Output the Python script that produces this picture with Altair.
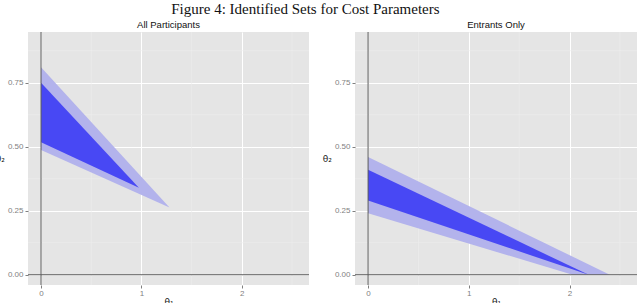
import altair as alt
import pandas as pd

panels = ["All Participants", "Entrants Only"]

# polygon vertices (theta1, theta2)
ap_outer_t1 = [0.0, 1.28, 0.0]
ap_outer_t2 = [0.81, 0.263, 0.487]
ap_inner_t1 = [0.0, 0.975, 0.0]
ap_inner_t2 = [0.75, 0.34, 0.517]

en_outer_t1 = [0.0, 2.40, 2.03, 0.0]
en_outer_t2 = [0.46, 0.0, 0.0, 0.24]
en_inner_t1 = [0.0, 2.19, 0.0]
en_inner_t2 = [0.41, 0.0, 0.29]

x_ticks = [0, 1, 2]
y_ticks = [0.0, 0.25, 0.50, 0.75]
x_minor = [0.5, 1.5, 2.5]
y_minor = [0.125, 0.375, 0.625, 0.875]
x_domain = [-0.13, 2.67]
y_domain = [-0.04, 0.948]
zero_line = [0]

LIGHT = "#B3B3EC"
DARK = "#4848F4"
LABEL = "#7F7F7F"


def poly_df(t1, t2):
    return pd.DataFrame({"t1": t1, "t2": t2, "vertex": list(range(len(t1)))})


def panel(title, outer, inner, w):
    xs = alt.Scale(domain=x_domain, nice=False, zero=False)
    ys = alt.Scale(domain=y_domain, nice=False, zero=False)
    xax = alt.Axis(values=x_ticks, format="d", grid=True, gridColor="white", gridWidth=1,
                   labelColor=LABEL, labelFontSize=8, labelFont="Liberation Sans",
                   tickColor=LABEL, tickSize=3, domain=False, labelPadding=1,
                   title="θ₁", titleFontSize=9, titleFont="DejaVu Sans",
                   titleFontWeight="normal", titlePadding=0, titleColor="#222")
    yax = alt.Axis(values=y_ticks, format=".2f", grid=True, gridColor="white", gridWidth=1,
                   labelColor=LABEL, labelFontSize=8, labelFont="Liberation Sans",
                   tickColor=LABEL, tickSize=3, domain=False, labelPadding=2,
                   title="θ₂", titleFontSize=9, titleFont="DejaVu Sans",
                   titleFontWeight="normal", titleAngle=0, titleAlign="right",
                   titleBaseline="middle", titlePadding=3, titleColor="#222")

    base_grid = alt.Chart(pd.DataFrame({"v": x_ticks})).mark_rule(opacity=0).encode(
        x=alt.X("v:Q", scale=xs, axis=xax),
    )
    ygrid = alt.Chart(pd.DataFrame({"v": y_ticks})).mark_rule(opacity=0).encode(
        y=alt.Y("v:Q", scale=ys, axis=yax),
    )
    minor_x = alt.Chart(pd.DataFrame({"v": x_minor})).mark_rule(
        color="#EEEEEE", strokeWidth=0.6).encode(x=alt.X("v:Q", scale=xs))
    minor_y = alt.Chart(pd.DataFrame({"v": y_minor})).mark_rule(
        color="#EEEEEE", strokeWidth=0.6).encode(y=alt.Y("v:Q", scale=ys))

    def poly(df, col):
        return alt.Chart(df).mark_line(filled=True, strokeWidth=0, interpolate="linear-closed",
                                       color=col, fill=col, fillOpacity=1).encode(
            x=alt.X("t1:Q", scale=xs),
            y=alt.Y("t2:Q", scale=ys),
            order="vertex:Q",
        )

    vline = alt.Chart(pd.DataFrame({"v": zero_line})).mark_rule(
        color="#5A5A5A", strokeWidth=1).encode(x=alt.X("v:Q", scale=xs))
    hline = alt.Chart(pd.DataFrame({"v": zero_line})).mark_rule(
        color="#5A5A5A", strokeWidth=1).encode(y=alt.Y("v:Q", scale=ys))

    return alt.layer(
        minor_x, minor_y, base_grid, ygrid,
        poly(outer, LIGHT), poly(inner, DARK),
        vline, hline,
    ).properties(
        width=w, height=253,
        title=alt.TitleParams(title, font="Liberation Sans", fontSize=9.5,
                              fontWeight="normal", color="#111", offset=2),
    )


left = panel(panels[0], poly_df(ap_outer_t1, ap_outer_t2), poly_df(ap_inner_t1, ap_inner_t2), 281)
right = panel(panels[1], poly_df(en_outer_t1, en_outer_t2), poly_df(en_inner_t1, en_inner_t2), 282)

chart = alt.hconcat(left, right, spacing=46, bounds="flush").properties(
    title=alt.TitleParams("Figure 4: Identified Sets for Cost Parameters",
                          font="Liberation Serif", fontSize=15, fontWeight="normal",
                          color="#111", anchor="middle", offset=3, dx=-11),
    padding={"left": -5, "top": 2, "right": 0, "bottom": 0},
    background="white",
).configure_view(fill="#E5E5E5", stroke=None)

chart.save("out.html", embed_options={"renderer": "svg", "actions": False})
